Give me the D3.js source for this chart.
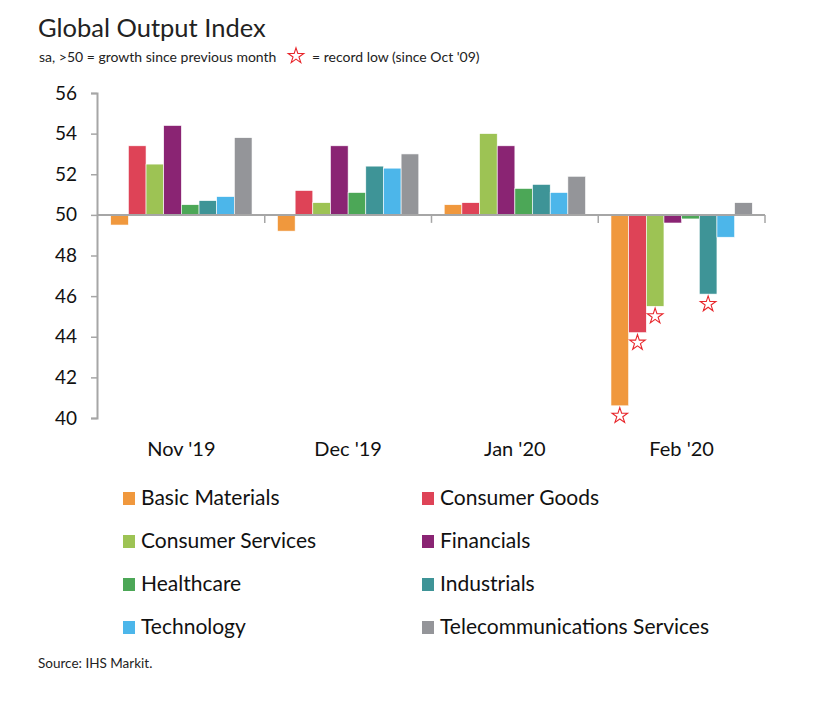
<!DOCTYPE html>
<html>
<head>
<meta charset="utf-8">
<script src="https://cdn.jsdelivr.net/npm/d3@7"></script>
<style>
  html, body { margin: 0; padding: 0; background: #fff; }
  svg { display: block; font-family: Lato, "Open Sans", sans-serif; }
</style>
</head>
<body>
<svg id="chart" width="820" height="703"></svg>
<script>
const months = ["Nov '19", "Dec '19", "Jan '20", "Feb '20"];
const series = ["Basic Materials", "Consumer Goods", "Consumer Services", "Financials",
                "Healthcare", "Industrials", "Technology", "Telecommunications Services"];
const colors = ["#F0983D", "#DE4357", "#9DC354", "#8A2473", "#4CA757", "#3E9497", "#4CB6EA", "#949599"];
const basicMaterials   = [49.5, 49.2, 50.5, 40.6];
const consumerGoods    = [53.4, 51.2, 50.6, 44.2];
const consumerServices = [52.5, 50.6, 54.0, 45.5];
const financials       = [54.4, 53.4, 53.4, 49.6];
const healthcare       = [50.5, 51.1, 51.3, 49.8];
const industrials      = [50.7, 52.4, 51.5, 46.1];
const technology       = [50.9, 52.3, 51.1, 48.9];
const telecom          = [53.8, 53.0, 51.9, 50.6];
const yTicks = [40, 42, 44, 46, 48, 50, 52, 54, 56];
// record lows (since Oct '09): [month, series]
const recordLows = [["Feb '20", "Basic Materials"], ["Feb '20", "Consumer Goods"],
                    ["Feb '20", "Consumer Services"], ["Feb '20", "Industrials"]];

const values = [basicMaterials, consumerGoods, consumerServices, financials,
                healthcare, industrials, technology, telecom];
const rows = [];
months.forEach((m, mi) => series.forEach((s, si) => rows.push({ month: m, series: s, value: values[si][mi] })));

const svg = d3.select("#chart");
const font = "Lato, 'Open Sans', sans-serif";

// Titles
svg.append("text").attr("x", 38).attr("y", 37).attr("font-size", 25.5).attr("fill", "#222")
  .text("Global Output Index");
svg.append("text").attr("x", 39).attr("y", 62).attr("font-size", 14).attr("fill", "#222")
  .text("sa, >50 = growth since previous month");

const starPath = d3.symbol().type(d3.symbolStar).size(75)();
svg.append("path").attr("d", starPath).attr("transform", "translate(296,56)")
  .attr("fill", "none").attr("stroke", "#E8262B").attr("stroke-width", 1.1);
svg.append("text").attr("x", 312).attr("y", 62).attr("font-size", 14).attr("fill", "#222")
  .text("= record low (since Oct '09)");

// Scales
const x0 = d3.scaleBand().domain(months).range([98, 765]).padding(0);
const x1 = d3.scaleBand().domain(series).range([0, x0.bandwidth()]).paddingInner(0).paddingOuter(0.72);
const y = d3.scaleLinear().domain([40, 56]).range([418, 93]);
const color = d3.scaleOrdinal().domain(series).range(colors);

// Bars
svg.append("g").selectAll("rect").data(rows).join("rect")
  .attr("x", d => x0(d.month) + x1(d.series))
  .attr("width", x1.bandwidth())
  .attr("y", d => y(Math.max(50, d.value)))
  .attr("height", d => Math.abs(y(d.value) - y(50)))
  .attr("fill", d => color(d.series))
  .attr("stroke", "#fff").attr("stroke-width", 0.6);

// Stars for record lows
svg.append("g").selectAll("path").data(recordLows).join("path")
  .attr("d", starPath)
  .attr("transform", ([m, s]) => {
    const v = values[series.indexOf(s)][months.indexOf(m)];
    return `translate(${x0(m) + x1(s) + x1.bandwidth() / 2},${y(v) + 10})`;
  })
  .attr("fill", "none").attr("stroke", "#E8262B").attr("stroke-width", 1.1);

// Y axis
const yAxis = svg.append("g").attr("transform", "translate(97,0)")
  .call(d3.axisLeft(y).tickValues(yTicks).tickSize(6).tickPadding(14).tickFormat(d3.format("d")));
yAxis.select(".domain").attr("stroke", "#A6A6A6").attr("stroke-width", 2);
yAxis.selectAll(".tick line").attr("stroke", "#A6A6A6").attr("stroke-width", 1.5);
yAxis.selectAll(".tick text").attr("font-family", font).attr("font-size", 19).attr("fill", "#111");

// Baseline at 50 with group separator ticks
const xAxis = svg.append("g").attr("transform", `translate(0,${y(50)})`);
xAxis.append("line").attr("x1", 97).attr("x2", 765).attr("stroke", "#A6A6A6").attr("stroke-width", 2);
xAxis.selectAll(".sep").data(months).join("line").attr("class", "sep")
  .attr("x1", d => x0(d) + x0.bandwidth()).attr("x2", d => x0(d) + x0.bandwidth())
  .attr("y1", 0).attr("y2", 8).attr("stroke", "#A6A6A6").attr("stroke-width", 1.5);

// Month labels
const xLabels = svg.append("g").attr("transform", "translate(0,436)")
  .call(d3.axisBottom(x0).tickSize(0).tickPadding(0));
xLabels.select(".domain").remove();
xLabels.selectAll(".tick text").attr("font-family", font).attr("font-size", 20).attr("fill", "#111")
  .attr("dy", "0").attr("y", 20);

// Legend
const legend = svg.append("g");
const li = legend.selectAll("g").data(series).join("g")
  .attr("transform", (d, i) => `translate(${i % 2 === 0 ? 123 : 422},${505 + Math.floor(i / 2) * 43})`);
li.append("rect").attr("x", 0).attr("y", -13).attr("width", 12).attr("height", 13).attr("fill", d => color(d));
li.append("text").attr("x", 18).attr("y", 0).attr("font-size", 21).attr("fill", "#111").text(d => d);

// Source
svg.append("text").attr("x", 38).attr("y", 668).attr("font-size", 13.5).attr("fill", "#222")
  .text("Source: IHS Markit.");
</script>
</body>
</html>
